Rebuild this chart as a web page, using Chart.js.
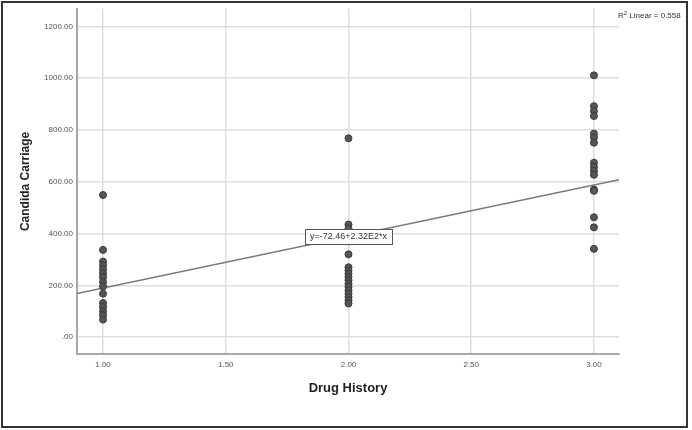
<!DOCTYPE html>
<html>
<head>
<meta charset="utf-8">
<script src="https://cdn.jsdelivr.net/npm/chart.js@4"></script>
<style>
html,body{margin:0;padding:0;background:#fff;}
#wrap{position:relative;width:692px;height:430px;}
</style>
</head>
<body>
<div id="wrap"><canvas id="c" width="692" height="430"></canvas></div>
<script>
// ---- data ----
const categories = [1, 2, 3];
const group1Values = [549, 337, 292, 277, 262, 246, 231, 213, 196, 168, 132, 117, 100, 85, 68];
const group2Values = [768, 435, 420, 395, 370, 320, 270, 258, 245, 232, 220, 206, 194, 181, 168, 155, 142, 130];
const group3Values = [1011, 892, 873, 854, 786, 771, 751, 674, 658, 642, 627, 570, 565, 463, 424, 341];
const fitLineX = [0.894, 3.102];
const fitLineY = [169, 608];
const xTickValues = [1, 1.5, 2, 2.5, 3];
const xTickLabels = ['1.00', '1.50', '2.00', '2.50', '3.00'];
const yTickValues = [0, 200, 400, 600, 800, 1000, 1200];
const yTickLabels = ['.00', '200.00', '400.00', '600.00', '800.00', '1000.00', '1200.00'];
const xTitle = 'Drug History';
const yTitle = 'Candida Carriage';
const equationText = 'y=-72.46+2.32E2*x';
const r2Text = ' Linear = 0.558';

const groups = [group1Values, group2Values, group3Values];
const points = [];
groups.forEach((vals, i) => vals.forEach(v => points.push({x: categories[i], y: v})));
const linePts = fitLineX.map((x, i) => ({x: x, y: fitLineY[i]}));

const FONT = '"Liberation Sans", Arial, sans-serif';

const extras = {
  id: 'extras',
  afterDatasetsDraw(chart) {
    const ctx = chart.ctx;
    const xs = chart.scales.x, ys = chart.scales.y;
    // equation box at x = 2 on fit line
    const ex = 2;
    const t = (ex - fitLineX[0]) / (fitLineX[1] - fitLineX[0]);
    const ey = fitLineY[0] + t * (fitLineY[1] - fitLineY[0]);
    const px = xs.getPixelForValue(ex), py = ys.getPixelForValue(ey);
    ctx.save();
    ctx.font = '9px ' + FONT;
    const w = ctx.measureText(equationText).width + 10;
    const h = 15;
    ctx.fillStyle = '#fff';
    ctx.fillRect(px - w / 2, py - h / 2, w, h);
    ctx.strokeStyle = '#555';
    ctx.lineWidth = 1;
    ctx.strokeRect(Math.round(px - w / 2) + 0.5, Math.round(py - h / 2) + 0.5, Math.round(w), h);
    ctx.fillStyle = '#333';
    ctx.textAlign = 'center';
    ctx.textBaseline = 'middle';
    ctx.fillText(equationText, px, py + 0.5);
    // R2 label
    ctx.textAlign = 'left';
    ctx.textBaseline = 'alphabetic';
    ctx.font = '8px ' + FONT;
    let rx = 618, ry = 18;
    ctx.fillText('R', rx, ry);
    rx += ctx.measureText('R').width;
    ctx.font = '6px ' + FONT;
    ctx.fillText('2', rx, ry - 3);
    rx += ctx.measureText('2').width;
    ctx.font = '8px ' + FONT;
    ctx.fillText(r2Text, rx, ry);
    // outer frame
    ctx.strokeStyle = '#333';
    ctx.lineWidth = 2;
    ctx.strokeRect(2, 2, 685, 425);
    ctx.restore();
  }
};

new Chart(document.getElementById('c'), {
  type: 'scatter',
  data: {
    datasets: [
      {
        type: 'scatter',
        data: points,
        order: 0,
        pointRadius: 3.5,
        pointBackgroundColor: '#555',
        pointBorderColor: '#3a3a3a',
        pointBorderWidth: 1
      },
      {
        type: 'line',
        data: linePts,
        order: 1,
        borderColor: '#7a7a7a',
        borderWidth: 1.5,
        pointRadius: 0,
        fill: false
      }
    ]
  },
  options: {
    responsive: false,
    animation: false,
    events: [],
    layout: {padding: {left: 0, right: 73, top: 7, bottom: 0}},
    plugins: {legend: {display: false}, tooltip: {enabled: false}},
    scales: {
      x: {
        type: 'linear',
        min: 0.894,
        max: 3.102,
        afterBuildTicks: s => { s.ticks = xTickValues.map(v => ({value: v})); },
        afterFit: s => { s.height = 76; },
        ticks: {
          padding: 6,
          font: {family: FONT, size: 8},
          color: '#555',
          callback: (v) => { const i = xTickValues.indexOf(v); return i >= 0 ? xTickLabels[i] : ''; }
        },
        grid: {color: '#dedede', lineWidth: 1.5, drawTicks: false},
        border: {color: '#a8a8a8', width: 2},
        title: {display: true, text: xTitle, font: {family: FONT, size: 13, weight: 'bold'}, color: '#222', padding: {top: 0, bottom: 34}}
      },
      y: {
        type: 'linear',
        min: -65,
        max: 1268,
        afterBuildTicks: s => { s.ticks = yTickValues.map(v => ({value: v})); },
        afterFit: s => { s.width = 77; },
        ticks: {
          padding: 4,
          font: {family: FONT, size: 8},
          color: '#555',
          callback: (v) => { const i = yTickValues.indexOf(v); return i >= 0 ? yTickLabels[i] : ''; }
        },
        grid: {color: '#dedede', lineWidth: 1.5, drawTicks: false},
        border: {color: '#a8a8a8', width: 2},
        title: {display: true, text: yTitle, font: {family: FONT, size: 12, weight: 'bold'}, color: '#222', padding: {top: 18, bottom: 0}}
      }
    }
  },
  plugins: [extras]
});
</script>
</body>
</html>
